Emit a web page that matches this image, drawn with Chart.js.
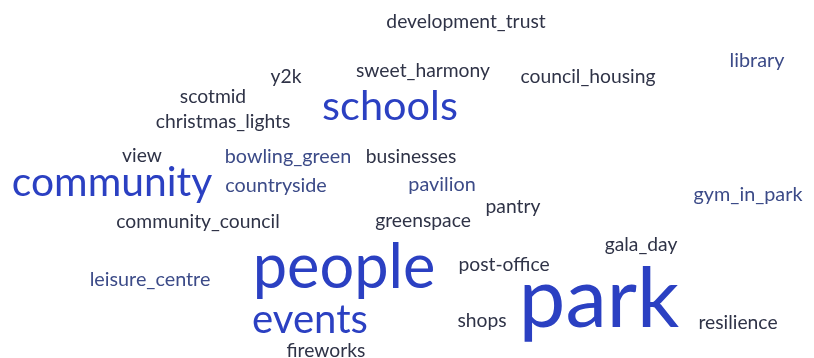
<!DOCTYPE html>
<html>
<head>
<meta charset="utf-8">
<script src="https://cdn.jsdelivr.net/npm/chart.js@4.4.1/dist/chart.umd.min.js"></script>
<style>
html,body{margin:0;padding:0;background:#fff;}
canvas{display:block;}
</style>
</head>
<body>
<canvas id="c" width="814" height="358"></canvas>
<script>
// Word cloud data
const words = ["development_trust","library","y2k","sweet_harmony","council_housing","scotmid","schools","christmas_lights","view","bowling_green","businesses","community","countryside","pavilion","gym_in_park","pantry","community_council","greenspace","gala_day","people","post-office","leisure_centre","park","shops","events","resilience","fireworks"];
const frequency = [4,4.1,4,4,4,4,8.6,4,4,4.1,4,8.45,4.1,4.1,4.1,4,4,4,4,12.7,4,4.1,17.2,4,8.3,4,4];
const cloudX = [466,757,286,423,588,213,390,223,142,288,411,112,276,442,748,513,198,423,641,344,504,150,599,482,310,738,326];
const cloudY = [22,61,77,71,77,97,107,122,156,157,157,183,186,185,195,207,222,221,245,268,265,280,300,321,320,323,351];

const FONT = "Lato, 'Source Sans Pro', sans-serif";
function sizeFor(f){ return f*4.83; }
function colorFor(f){
  if (f >= 8) return "#2b40c2";
  if (f > 4) return "#3c4b88";
  return "#2f3347";
}

const textPlugin = {
  id: 'wordText',
  afterDatasetsDraw(chart){
    const ctx = chart.ctx;
    const meta = chart.getDatasetMeta(0);
    ctx.save();
    ctx.textAlign = 'center';
    ctx.textBaseline = 'middle';
    meta.data.forEach((pt, i) => {
      const f = frequency[i];
      ctx.font = sizeFor(f).toFixed(1) + "px " + FONT;
      ctx.fillStyle = colorFor(f);
      ctx.fillText(words[i], pt.x, pt.y);
    });
    ctx.restore();
  }
};

new Chart(document.getElementById('c'), {
  type: 'scatter',
  data: {
    labels: words,
    datasets: [{
      data: words.map((w, i) => ({x: cloudX[i], y: cloudY[i]})),
      pointRadius: 0,
      pointHoverRadius: 0
    }]
  },
  options: {
    responsive: false,
    animation: false,
    layout: {padding: 0},
    plugins: {legend: {display: false}, tooltip: {enabled: false}},
    scales: {
      x: {type: 'linear', min: 0, max: 814, display: false},
      y: {type: 'linear', min: 0, max: 358, reverse: true, display: false}
    }
  },
  plugins: [textPlugin]
});
</script>
</body>
</html>
